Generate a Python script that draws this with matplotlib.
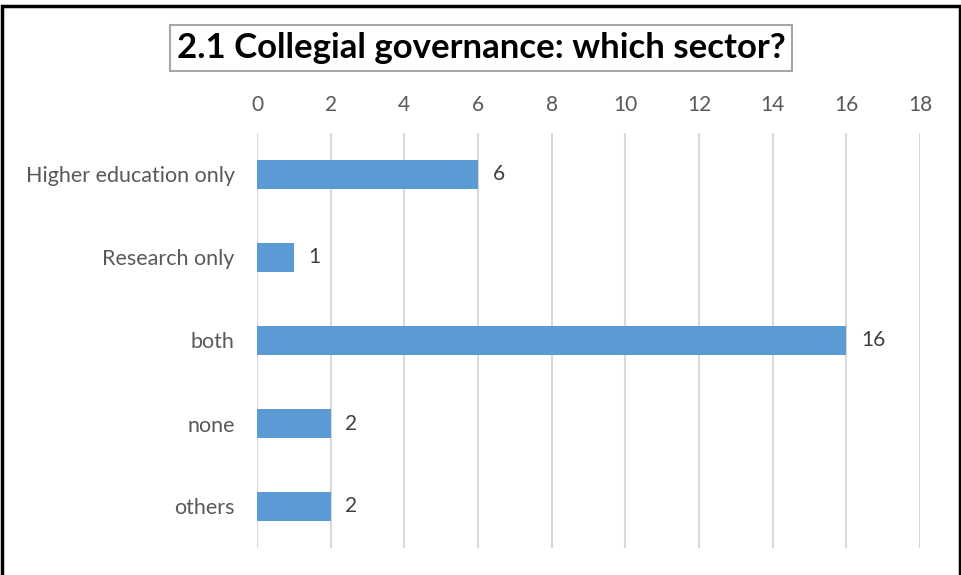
import matplotlib
matplotlib.use("Agg")
import matplotlib.pyplot as plt
from matplotlib.patches import Rectangle

categories = ["Higher education only", "Research only", "both", "none", "others"]
values = [6, 1, 16, 2, 2]
xticks = list(range(0, 19, 2))
title = "2.1 Collegial governance: which sector?"

plt.rcParams['font.family'] = ['Lato', 'DejaVu Sans']

fig = plt.figure(figsize=(9.62, 5.75), dpi=100)
ax = fig.add_axes([257/962, 27/575, 663/962, 415/575])

y = list(range(len(categories)))
ax.barh(y, values, height=0.36, color='#5B9BD5', zorder=3)
for yi, v in zip(y, values):
    ax.text(v + 0.4, yi, str(v), va='center', ha='left', fontsize=15, color='#404040')

ax.set_xlim(0, 18)
ax.set_ylim(len(categories) - 0.5, -0.5)
ax.set_xticks(xticks)
ax.set_xticklabels([str(t) for t in xticks], fontsize=15, color='#595959')
ax.xaxis.tick_top()
ax.tick_params(axis='x', length=0, pad=13)
ax.set_yticks(y)
ax.set_yticklabels(categories, fontsize=15.5, color='#595959')
ax.tick_params(axis='y', length=0, pad=16)
ax.grid(axis='x', color='#D9D9D9', linewidth=1.5, zorder=0)
ax.grid(axis='y', visible=False)
for s in ax.spines.values():
    s.set_visible(False)

# outer border
fig.patches.append(Rectangle((2/962, -0.01), 958/962, 1.0, transform=fig.transFigure,
                             fill=False, edgecolor='black', linewidth=2.5))

fig.text(481/962, 1 - 48/575, title, ha='center', va='center', fontsize=25,
         fontweight='bold', color='black',
         bbox=dict(boxstyle='square,pad=0.2', facecolor='white', edgecolor='#A6A6A6', linewidth=1.5))

fig.savefig('out.png', dpi=100)
